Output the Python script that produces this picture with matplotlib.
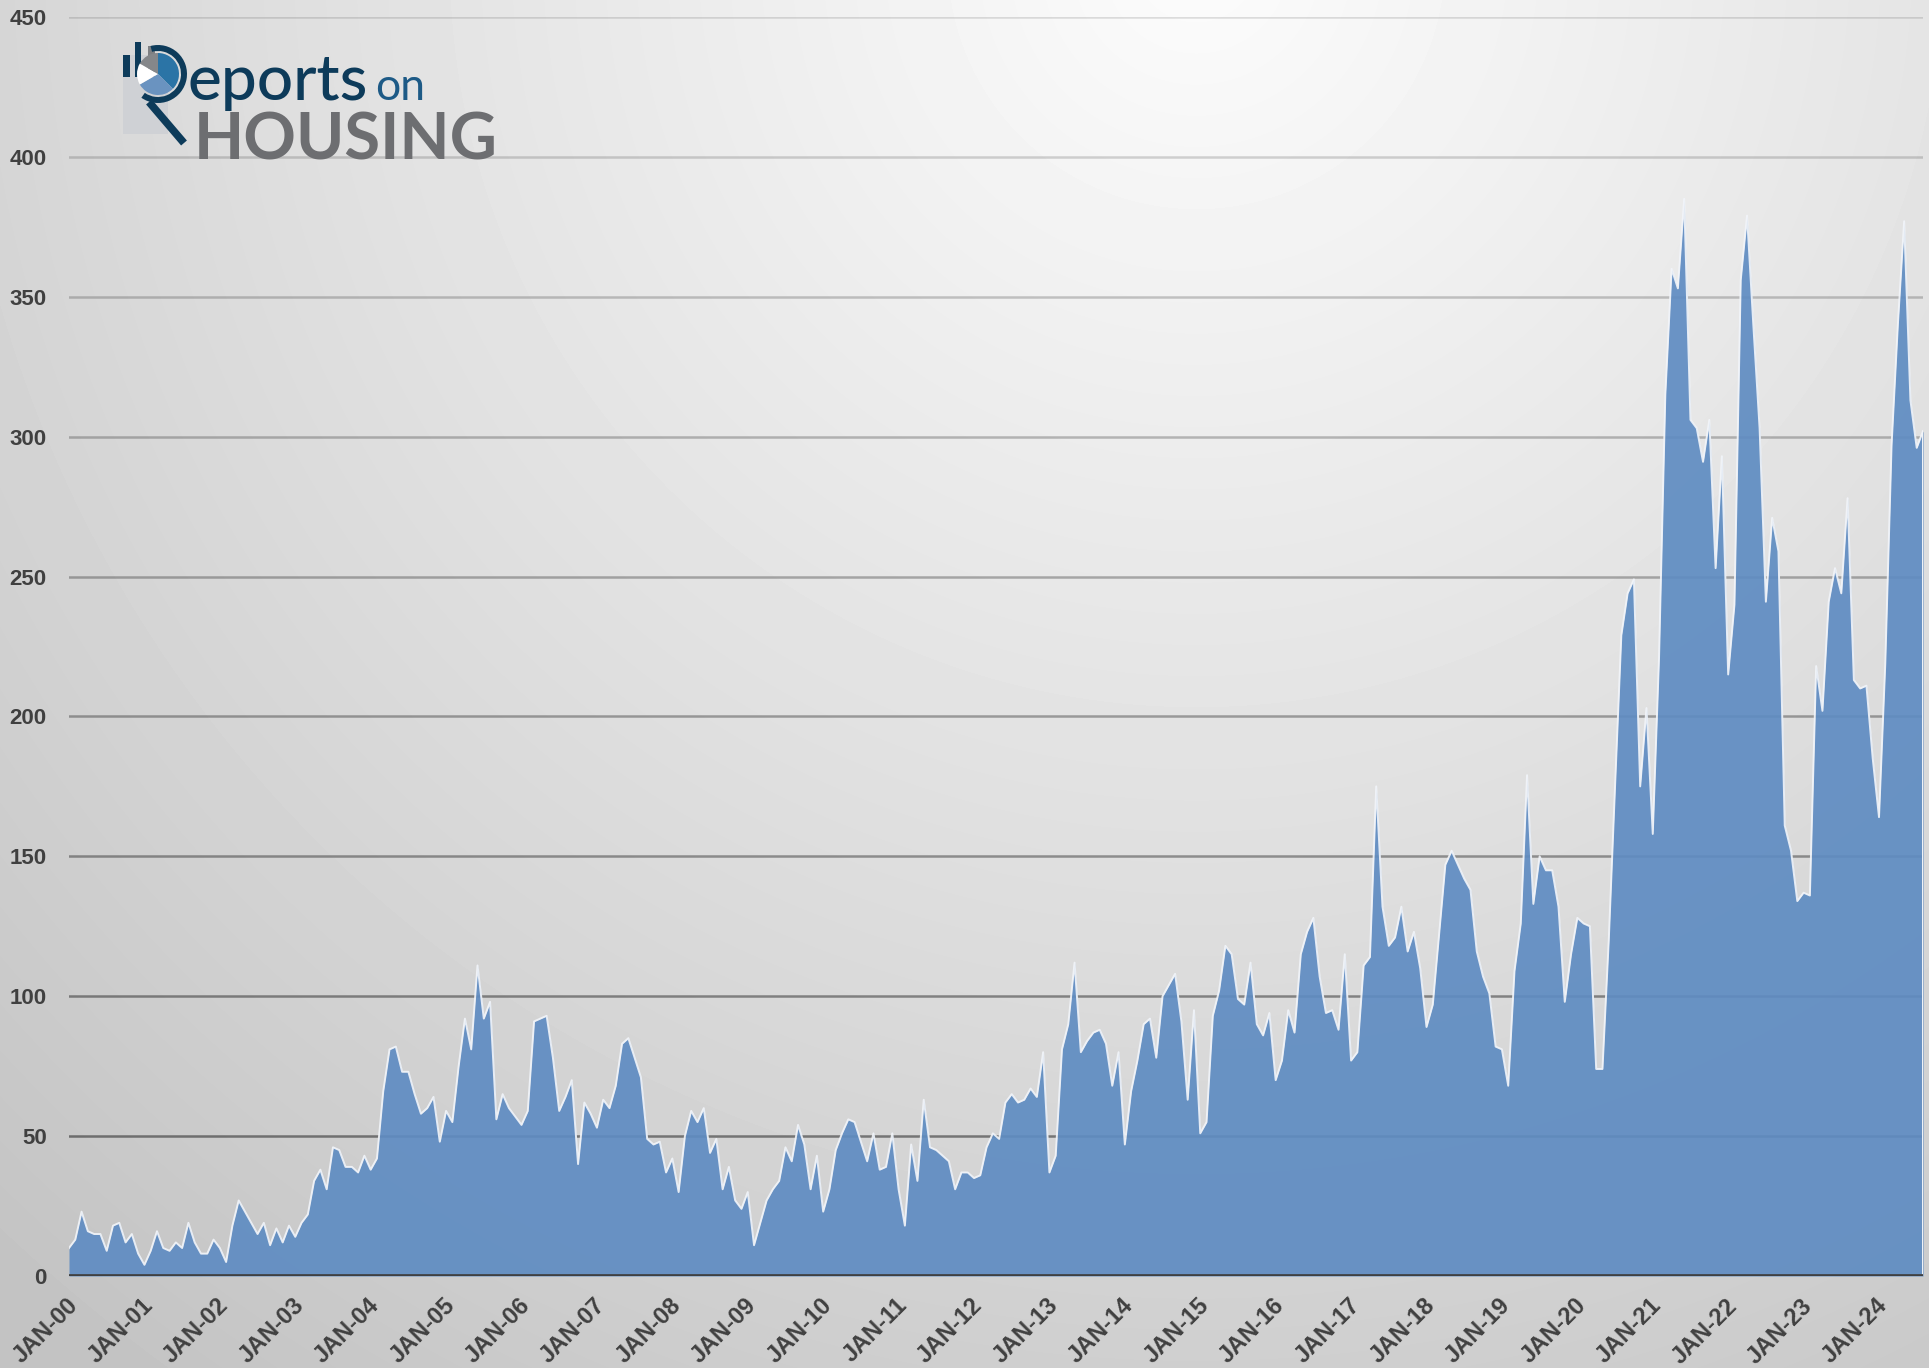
#!/usr/bin/env python3
"""Monthly series, Jan 2000 - Aug 2024, Reports on Housing style area chart."""

import matplotlib.pyplot as plt
import matplotlib.patches as mpatches
import matplotlib.transforms as mtransforms
import numpy as np

W, H = 1929, 1368

# -- Data (one value per month from JAN-00)
y2000 = [10, 13, 23, 16, 15, 15, 9, 18, 19, 12, 15, 8]
y2001 = [4, 9, 16, 10, 9, 12, 10, 19, 12, 8, 8, 13]
y2002 = [10, 5, 18, 27, 23, 19, 15, 19, 11, 17, 12, 18]
y2003 = [14, 19, 22, 34, 38, 31, 46, 45, 39, 39, 37, 43]
y2004 = [38, 42, 66, 81, 82, 73, 73, 65, 58, 60, 64, 48]
y2005 = [59, 55, 75, 92, 81, 111, 92, 98, 56, 65, 60, 57]
y2006 = [54, 59, 91, 92, 93, 78, 59, 64, 70, 40, 62, 58]
y2007 = [53, 63, 60, 68, 83, 85, 78, 71, 49, 47, 48, 37]
y2008 = [42, 30, 50, 59, 55, 60, 44, 49, 31, 39, 27, 24]
y2009 = [30, 11, 19, 27, 31, 34, 46, 41, 54, 47, 31, 43]
y2010 = [23, 31, 45, 51, 56, 55, 48, 41, 51, 38, 39, 51]
y2011 = [31, 18, 47, 34, 63, 46, 45, 43, 41, 31, 37, 37]
y2012 = [35, 36, 46, 51, 49, 62, 65, 62, 63, 67, 64, 80]
y2013 = [37, 43, 81, 90, 112, 80, 84, 87, 88, 83, 68, 80]
y2014 = [47, 66, 77, 90, 92, 78, 100, 104, 108, 91, 63, 95]
y2015 = [51, 55, 93, 102, 118, 115, 99, 97, 112, 90, 86, 94]
y2016 = [70, 77, 95, 87, 115, 123, 128, 107, 94, 95, 88, 115]
y2017 = [77, 80, 111, 114, 175, 132, 118, 121, 132, 116, 123, 110]
y2018 = [89, 97, 122, 147, 152, 147, 142, 138, 116, 107, 101, 82]
y2019 = [81, 68, 109, 126, 179, 133, 150, 145, 145, 132, 98, 115]
y2020 = [128, 126, 125, 74, 74, 120, 175, 229, 244, 249, 175, 203]
y2021 = [158, 221, 315, 360, 353, 385, 306, 303, 291, 306, 253, 293]
y2022 = [215, 240, 356, 379, 340, 303, 241, 271, 259, 161, 152, 134]
y2023 = [137, 136, 218, 202, 241, 253, 244, 278, 213, 210, 211, 185]
y2024 = [164, 219, 297, 340, 377, 313, 296, 302]

values = (y2000 + y2001 + y2002 + y2003 + y2004 + y2005 + y2006 + y2007
          + y2008 + y2009 + y2010 + y2011 + y2012 + y2013 + y2014 + y2015
          + y2016 + y2017 + y2018 + y2019 + y2020 + y2021 + y2022 + y2023
          + y2024)
year_labels = [f"JAN-{yy:02d}" for yy in range(0, 25)]
y_ticks = list(range(0, 451, 50))

FILL = "#5f8cc2"
TEXT = "#404040"
NAVY = "#0d3b5a"
LOGO_GRAY = "#6d6e71"

fig = plt.figure(figsize=(W / 100, H / 100), dpi=100)

# -- Background: soft radial gradient, light at top centre-right
bg = fig.add_axes([0, 0, 1, 1], zorder=0)
gx, gy = np.meshgrid(np.arange(W), np.arange(H))
dist = np.hypot(gx - 0.62 * W, gy + 40)
shade = np.clip(252 - 0.032 * dist, 196, 252) / 255.0
bg.imshow(shade, cmap="gray", vmin=0, vmax=1, aspect="auto",
          extent=[0, W, H, 0], interpolation="bilinear")
bg.set_axis_off()

# -- Main chart
x = np.arange(len(values))
ax = fig.add_axes([69 / W, 92 / H, (1923 - 69) / W, (1276 - 17) / H],
                  zorder=1)
ax.set_facecolor("none")
ax.set_xlim(0, len(values) - 1)
ax.set_ylim(0, 450)

for v in y_ticks[1:]:
    a = 0.45 - (v - 50) / 400 * 0.33
    ax.axhline(v, color="black", alpha=a, lw=1.8, zorder=1)

ax.fill_between(x, values, 0, color=FILL, alpha=0.92, lw=0, zorder=2)
ax.plot(x, values, color="#f2f5fa", lw=1.4, alpha=0.9, zorder=3)
ax.vlines(x[-1], 0, values[-1], color="#f2f5fa", lw=1.4, zorder=3)
ax.axhline(0, color=TEXT, lw=3.4, zorder=4)

for s in ax.spines.values():
    s.set_visible(False)
ax.set_yticks(y_ticks)
ax.set_yticklabels([str(v) for v in y_ticks])
ax.set_xticks(x[::12])
ax.set_xticklabels(year_labels, rotation=45, ha="right",
                   rotation_mode="anchor")
ax.tick_params(axis="both", length=0, labelcolor=TEXT)
ax.tick_params(axis="y", pad=16)
ax.tick_params(axis="x", pad=13)
shift = mtransforms.ScaledTranslation(-3 / 100, 0, fig.dpi_scale_trans)
for lbl in ax.get_xticklabels():
    lbl.set_transform(lbl.get_transform() + shift)
    lbl.set_fontsize(17)
for lbl in ax.get_yticklabels():
    lbl.set_fontsize(16)
for lbl in ax.get_xticklabels() + ax.get_yticklabels():
    lbl.set_fontfamily("Liberation Sans")
    lbl.set_fontweight("bold")

# -- Logo (pixel coordinates, y up)
lg = fig.add_axes([0, 0, 1, 1], zorder=3)
lg.set_xlim(0, W)
lg.set_ylim(0, H)
lg.set_axis_off()
lg.patch.set_alpha(0)


def Y(py):
    return H - py


lg.add_patch(mpatches.Rectangle((123, Y(134)), 45, 79,
                                color="#cfd1d5", lw=0))
lg.add_patch(mpatches.Rectangle((123, Y(77)), 7, 22, color=NAVY, lw=0))
lg.add_patch(mpatches.Rectangle((135, Y(77)), 6, 35, color=NAVY, lw=0))
lg.add_patch(mpatches.Rectangle((148, Y(77)), 7, 31, color="#7e8083",
                                lw=0))
cx, cy = 158, Y(74)
lg.add_patch(mpatches.Wedge((cx, cy), 21, -45, 90, color="#2b74a6", lw=0))
lg.add_patch(mpatches.Wedge((cx, cy), 21, -150, -45, color="#6a93c0",
                            lw=0))
lg.add_patch(mpatches.Wedge((cx, cy), 21, 150, 210, color="white", lw=0))
lg.add_patch(mpatches.Wedge((cx, cy), 21, 90, 150, color="#85878a", lw=0))
lg.add_patch(mpatches.Wedge((cx, cy), 29, -125, 105, width=6, color=NAVY,
                            lw=0))
lg.plot([149, 184], [Y(102), Y(143)], color=NAVY, lw=5.5,
        solid_capstyle="butt")
lg.text(188, Y(100), "eports", color=NAVY, fontsize=46, family="Lato",
        fontweight="medium", ha="left", va="baseline")
lg.text(375, Y(100), "on", color="#1d5a86", fontsize=32, family="Lato",
        fontweight="normal", ha="left", va="baseline")
lg.text(194, Y(160), "HOUSING", color=LOGO_GRAY, fontsize=47,
        family="Lato", fontweight="bold", ha="left", va="baseline")

fig.savefig("out.png", dpi=100)
